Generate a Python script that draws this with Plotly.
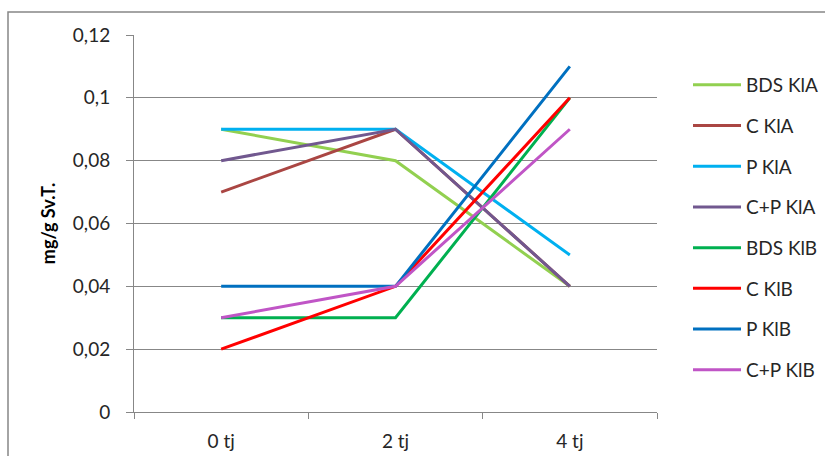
import plotly.graph_objects as go

categories = ["0 tj", "2 tj", "4 tj"]
series_names = ["BDS KlA", "C KlA", "P KlA", "C+P KlA", "BDS KlB", "C KlB", "P KlB", "C+P KlB"]
bds_kla = [0.09, 0.08, 0.04]
c_kla = [0.07, 0.09, 0.04]
p_kla = [0.09, 0.09, 0.05]
cp_kla = [0.08, 0.09, 0.04]
bds_klb = [0.03, 0.03, 0.10]
c_klb = [0.02, 0.04, 0.10]
p_klb = [0.04, 0.04, 0.11]
cp_klb = [0.03, 0.04, 0.09]
series_values = [bds_kla, c_kla, p_kla, cp_kla, bds_klb, c_klb, p_klb, cp_klb]
colors = ["#92D050", "#AA4643", "#00B0F0", "#71588F", "#00B050", "#FF0000", "#0070C0", "#C055C6"]
ytick_vals = [0, 0.02, 0.04, 0.06, 0.08, 0.1, 0.12]
ytick_text = ["0", "0,02", "0,04", "0,06", "0,08", "0,1", "0,12"]

FONT = "Lato"
fig = go.Figure()
for i, (name, vals, col) in enumerate(zip(series_names, series_values, colors)):
    fig.add_trace(go.Scatter(x=categories, y=vals, name=name, mode="lines",
                             line=dict(color=col, width=3), legendgroup=f"g{i}"))

W, H = 825, 456
L, R, T, B = 134, 657, 35, 412
pw, ph = R - L, B - T

def px_x(p):
    return (p - L) / pw

def px_y(p):
    return (B - p) / ph

fig.add_shape(type="rect", xref="paper", yref="paper",
              x0=px_x(8), x1=px_x(840), y0=px_y(470), y1=px_y(12),
              line=dict(color="#878787", width=1.5), fillcolor="rgba(0,0,0,0)", layer="below")

fig.update_layout(
    width=W, height=H,
    margin=dict(l=L, r=W - R, t=T, b=H - B, autoexpand=False),
    paper_bgcolor="white", plot_bgcolor="white",
    font=dict(family=FONT, size=19, color="#262626"),
    showlegend=True,
    legend=dict(x=px_x(688), y=px_y(66), xanchor="left", yanchor="top",
                traceorder="grouped", tracegroupgap=13, itemwidth=48,
                font=dict(family=FONT, size=19, color="#262626"),
                bgcolor="rgba(0,0,0,0)"),
    xaxis=dict(type="category", range=[-0.5, 2.5], showgrid=False, automargin=False,
               showline=True, linecolor="#878787", linewidth=1,
               ticks="outside", tickson="boundaries", ticklen=6, tickcolor="#878787",
               ticklabelstandoff=12, zeroline=False),
    yaxis=dict(range=[0, 0.12], tickvals=ytick_vals, ticktext=ytick_text, automargin=False,
               showgrid=True, gridcolor="#878787", gridwidth=1,
               showline=True, linecolor="#878787", linewidth=1,
               ticks="outside", ticklen=7, tickcolor="#878787",
               ticklabelstandoff=12, zeroline=False,
               title=dict(text="<b>mg/g Sv.T.</b>", standoff=12,
                          font=dict(family=FONT, size=18, color="#000000"))),
)

fig.write_html("out.html", config={"displayModeBar": False},
               post_script="document.body.style.margin='0';")
